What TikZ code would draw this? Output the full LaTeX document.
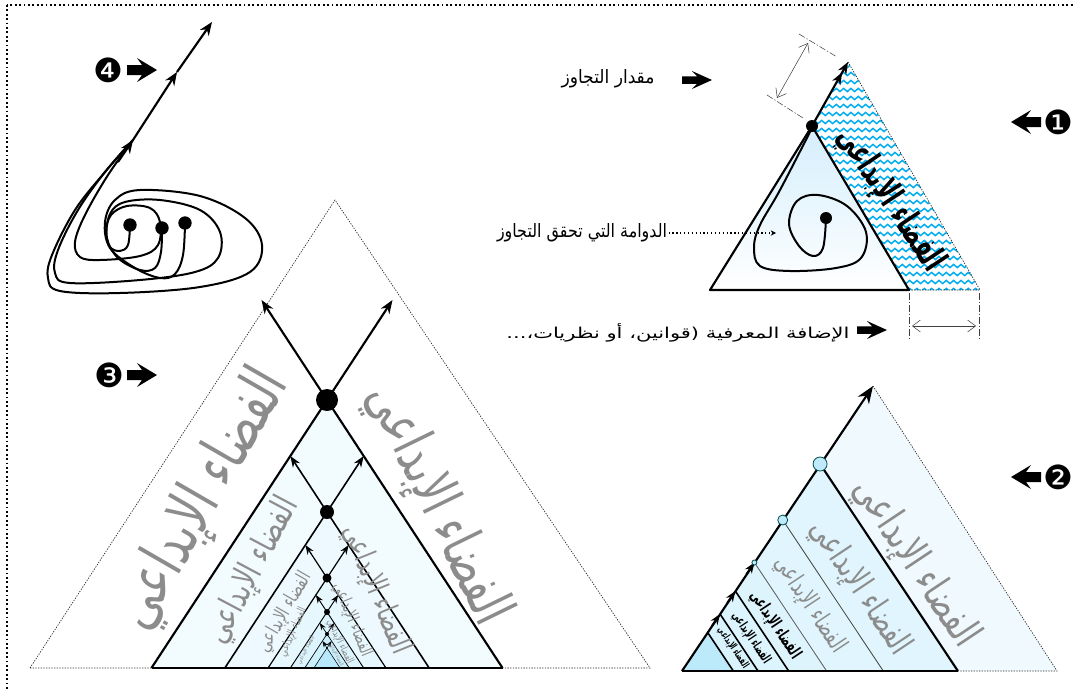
\documentclass[tikz,border=0pt]{standalone}
\usepackage{fontspec}
\usepackage{graphicx}
\usetikzlibrary{arrows.meta,decorations.pathmorphing}
\TeXXeTstate=1
\newfontfamily\arabicfont[Script=Arabic]{DejaVu Sans}
\newfontfamily\signfont{DejaVu Sans}
\definecolor{skytop}{RGB}{212,238,252}
\newdimen\pxu
\pxu=0.75pt
\newcommand{\arfit}[3]{\resizebox{#1\pxu}{#2\pxu}{\arabicfont\beginR #3\endR}}
\tikzset{
  thickline/.style={line width=1.6pt, line join=round},
  hatchwave/.style={cyan, line width=1.1pt, decorate, decoration={snake, amplitude=1.2pt, segment length=5.5pt}},
  dimline/.style={black!75, line width=0.4pt, dash pattern=on 5pt off 1.5pt on 1pt off 1.5pt},
  dimarrow/.style={black!75, line width=0.4pt, {Straight Barb[length=6pt,width=9pt]}-{Straight Barb[length=6pt,width=9pt]}},
  outerside/.style={black!85, line width=0.5pt, dash pattern=on 1pt off 1pt},
  spiral/.style={line width=1.5pt, line join=round, line cap=round},
  blackdot/.style={circle, fill=black, inner sep=0pt, minimum size=#1},
  arlabel/.style={inner sep=1pt},
  numsign/.style={font=\fontsize{25}{25}\selectfont\signfont, inner sep=0pt},
  pointer/.pic={\fill (-15,-5) -- (0,-5) -- (-5,-12) -- (15,0) -- (-5,12) -- (0,5) -- (-15,5) -- cycle;},
  spacetext/.style={font=\bfseries, inner sep=0pt},
  wordart/.style={text=black!45, inner sep=0pt},
}
\begin{document}
\begin{tikzpicture}[x=0.75pt,y=-0.75pt]
  \useasboundingbox (0,0) rectangle (1073,689);
  \draw[line width=1.3pt, dash pattern=on 1.3pt off 2pt] (7,5) rectangle (1090,700);

  % panel 1
  \coordinate (p1L) at (710,290);
  \coordinate (p1R) at (909,290);
  \coordinate (p1A) at (812,126);
  \coordinate (p1T) at (848,62);
  \coordinate (p1E) at (980,290);
  \begin{scope}
    \clip (p1A) -- (p1T) -- (p1E) -- (p1R) -- cycle;
    \foreach \y in {58,66,...,300}
      \draw[hatchwave] (790,\y) -- (995,\y);
  \end{scope}
  \draw[outerside] (p1T) -- (p1E) -- (p1R);
  \shade[top color=skytop, bottom color=white] (p1L) -- (p1A) -- (p1R) -- cycle;
  \draw[thickline] (p1L) -- (p1A) -- (p1R) -- cycle;
  \draw[spiral] plot[smooth, tension=0.6] coordinates {(826,218) (823,248) (813,256) (799,246) (789,224) (797,201) (818,195) (847,206) (866,232) (861,258) (836,268) (790,271) (760,266) (754,247) (760,225) (780,190) (812,128)};
  \draw[thickline, -{Stealth[length=9pt,width=7pt] Stealth[length=9pt,width=7pt]}] (p1A) -- (p1T);
  \node[blackdot=9pt] (apex1) at (p1A) {};
  \node[blackdot=9pt] (core1) at (826,218) {};
  \node[spacetext, rotate=-56.3] (space1) at (890,200) {\arfit{165}{27}{الفضاء الإبداعي}};
  \draw[dimline] (767,95) -- (803,118);
  \draw[dimline] (799,34) -- (837,57);
  \draw[dimarrow] (777,98) -- (808,43);
  \draw[dimline] (909,293) -- (909,338);
  \draw[dimline] (979,293) -- (979,338);
  \draw[dimarrow] (912,326) -- (976,326);
  \node[arlabel] (excess) at (608,79) {\arfit{93}{14}{مقدار التجاوز}};
  \pic[yscale=0.75] (excessmark) at (697,80) {pointer};
  \node[arlabel] (vortex) at (582,233) {\arfit{170}{14}{الدوامة التي تحقق التجاوز}};
  \coordinate (vortexend) at (776,233);
  \draw[line width=0.9pt, dotted, -{Stealth[length=4pt,width=4pt]}] (vortex.east) -- (vortexend);
  \node[arlabel] (addition) at (678,333) {\arfit{343}{15}{الإضافة المعرفية (قوانين، أو نظريات،...}};
  \pic[yscale=0.75] (additionmark) at (872,330) {pointer};
  \node[numsign] (one) at (1058,122) {❶};
  \pic[rotate=180] (onemark) at (1026,122) {pointer};

  % panel 2
  \fill[cyan!6] (682,671) -- (873,386) -- (1057,671) -- cycle;
  \draw[outerside] (873,386) -- (1057,671) -- (958,671);
  \foreach \h/\c in {207/12, 151/12, 108.5/13, 80/14, 57/15, 38.5/26}
    \fill[cyan!\c] (682,671) -- ({682+0.667*\h},{671-\h}) -- ({682+1.333*\h},671) -- cycle;
  \foreach \h/\w/\c in {207/1.6/black, 151/0.6/black!75, 108.5/0.6/black!65, 80/1.2/black, 57/1.2/black, 38.5/1.2/black}
    \draw[line width=\w pt, draw=\c] ({682+0.667*\h},{671-\h}) -- ({682+1.333*\h},671);
  \draw[line width=1.6pt] (682,671) -- (958,671);
  \draw[thickline, -{Stealth[length=13pt,width=10pt]}] (682,671) -- (873,386);
  \foreach \h in {57,80,108.5}
    \draw[thickline, -{Stealth[length=8pt,width=6pt]}] ({682+0.667*(\h-12)},{671-\h+12}) -- ({682+0.667*\h},{671-\h});
  \foreach \h/\r in {108.5/2.5, 151/5, 207/7}
    \draw[teal!60!black, fill=cyan!25, line width=0.6pt] ({682+0.667*\h},{671-\h}) circle[radius=\r];
  \node[wordart, rotate=-56.3] (space2a) at (915,563) {\arfit{194}{32}{الفضاء الإبداعي}};
  \node[wordart, rotate=-56.3] (space2b) at (860,588) {\arfit{155}{26}{الفضاء الإبداعي}};
  \node[wordart, rotate=-56.3] (space2c) at (810,605) {\arfit{110}{19}{الفضاء الإبداعي}};
  \node[spacetext, rotate=-56.3] (space2d) at (775,625) {\arfit{78}{13}{الفضاء الإبداعي}};
  \node[spacetext, rotate=-56.3] (space2e) at (751,638) {\arfit{59}{10}{الفضاء الإبداعي}};
  \node[spacetext, rotate=-56.3] (space2f) at (733,648) {\arfit{47}{8}{الفضاء الإبداعي}};
  \node[numsign] (two) at (1058,477) {❷};
  \pic[rotate=180] (twomark) at (1026,477) {pointer};

  % panel 3
  \draw[outerside] (30,668) -- (335,200) -- (650,668) -- cycle;
  \foreach \a/\b/\r/\w/\c in {200/400/11/1.6/5, 400/512/7/1.2/7, 512/578/4.5/0.9/10, 578/612/3/0.7/14, 612/634/2/0.5/20, 634/648/1.2/0.4/28}{
    \fill[cyan!\c] ({327-0.655*(668-\b)},668) -- (327,\b) -- ({327+0.655*(668-\b)},668) -- cycle;
    \draw[line width=\w pt, line join=round] ({327-0.655*(668-\b)},668) -- (327,\b) -- ({327+0.655*(668-\b)},668);
    \draw[line width=\w pt, -Stealth] (327,\b) -- ({327-0.655*(\b-\a)/2},{(\a+\b)/2});
    \draw[line width=\w pt, -Stealth] (327,\b) -- ({327+0.655*(\b-\a)/2},{(\a+\b)/2});
    \fill (327,\b) circle[radius=\r];
  }
  \draw[line width=1.8pt] (151.5,668) -- (502.5,668);
  \node[wordart, rotate=60] (space3a) at (203,500) {\arfit{288}{48}{الفضاء الإبداعي}};
  \node[wordart, rotate=-64] (space3b) at (437,505) {\arfit{260}{44}{الفضاء الإبداعي}};
  \node[wordart, rotate=62] (space3c) at (253,571) {\arfit{160}{27}{الفضاء الإبداعي}};
  \node[wordart, rotate=-68] (space3d) at (376,590) {\arfit{137}{23}{الفضاء الإبداعي}};
  \node[wordart, rotate=60] (space3e) at (285,612) {\arfit{89}{15}{الفضاء الإبداعي}};
  \node[wordart, rotate=-68] (space3f) at (352,620) {\arfit{78}{13}{الفضاء الإبداعي}};
  \node[wordart, rotate=66] (space3g) at (293,632) {\arfit{52}{9}{الفضاء الإبداعي}};
  \node[wordart, rotate=-64] (space3h) at (340,642) {\arfit{48}{8}{الفضاء الإبداعي}};
  \node[wordart, rotate=62] (space3i) at (306,650) {\arfit{30}{5}{الفضاء الإبداعي}};
  \node[wordart, rotate=-62] (space3j) at (336,654) {\arfit{26}{4}{الفضاء الإبداعي}};
  \node[numsign] (three) at (109,375) {❸};
  \pic (threemark) at (142,375) {pointer};

  % panel 4
  \draw[spiral] plot[smooth, tension=0.6] coordinates {(130,225) (128,245) (120,251) (110,247) (106,232) (111,215) (127,206) (150,208) (160,222) (158,245) (140,256) (100,260) (80,257) (75,242) (85,215) (108,175) (133,140)};
  \draw[spiral] plot[smooth, tension=0.6] coordinates {(162,228) (161,252) (155,268) (140,270) (118,258) (107,238) (110,214) (125,202) (160,200) (200,210) (220,232) (218,258) (195,272) (140,280) (70,283) (55,273) (58,250) (78,210) (105,172) (133,140)};
  \draw[spiral] plot[smooth, tension=0.6] coordinates {(185,223) (183,255) (175,274) (160,278) (135,268) (110,248) (105,222) (115,200) (140,190) (200,196) (245,218) (262,245) (250,272) (200,287) (120,293) (60,291) (48,278) (52,255) (75,210) (105,172) (133,140)};
  \coordinate (turn1) at (133,140);
  \coordinate (turn2) at (177,72);
  \coordinate (turn3) at (212,22);
  \draw[thickline, -{Stealth[length=10pt,width=8pt]}] (118,162) -- (turn1);
  \draw[thickline, -{Stealth[length=10pt,width=8pt]}] (turn1) -- (turn2);
  \draw[thickline, -{Stealth[length=10pt,width=8pt]}] (turn2) -- (turn3);
  \node[blackdot=10pt] (seed1) at (130,225) {};
  \node[blackdot=10pt] (seed2) at (162,228) {};
  \node[blackdot=10pt] (seed3) at (185,223) {};
  \node[numsign] (four) at (108,70) {❹};
  \pic (fourmark) at (142,70) {pointer};
\end{tikzpicture}
\end{document}
